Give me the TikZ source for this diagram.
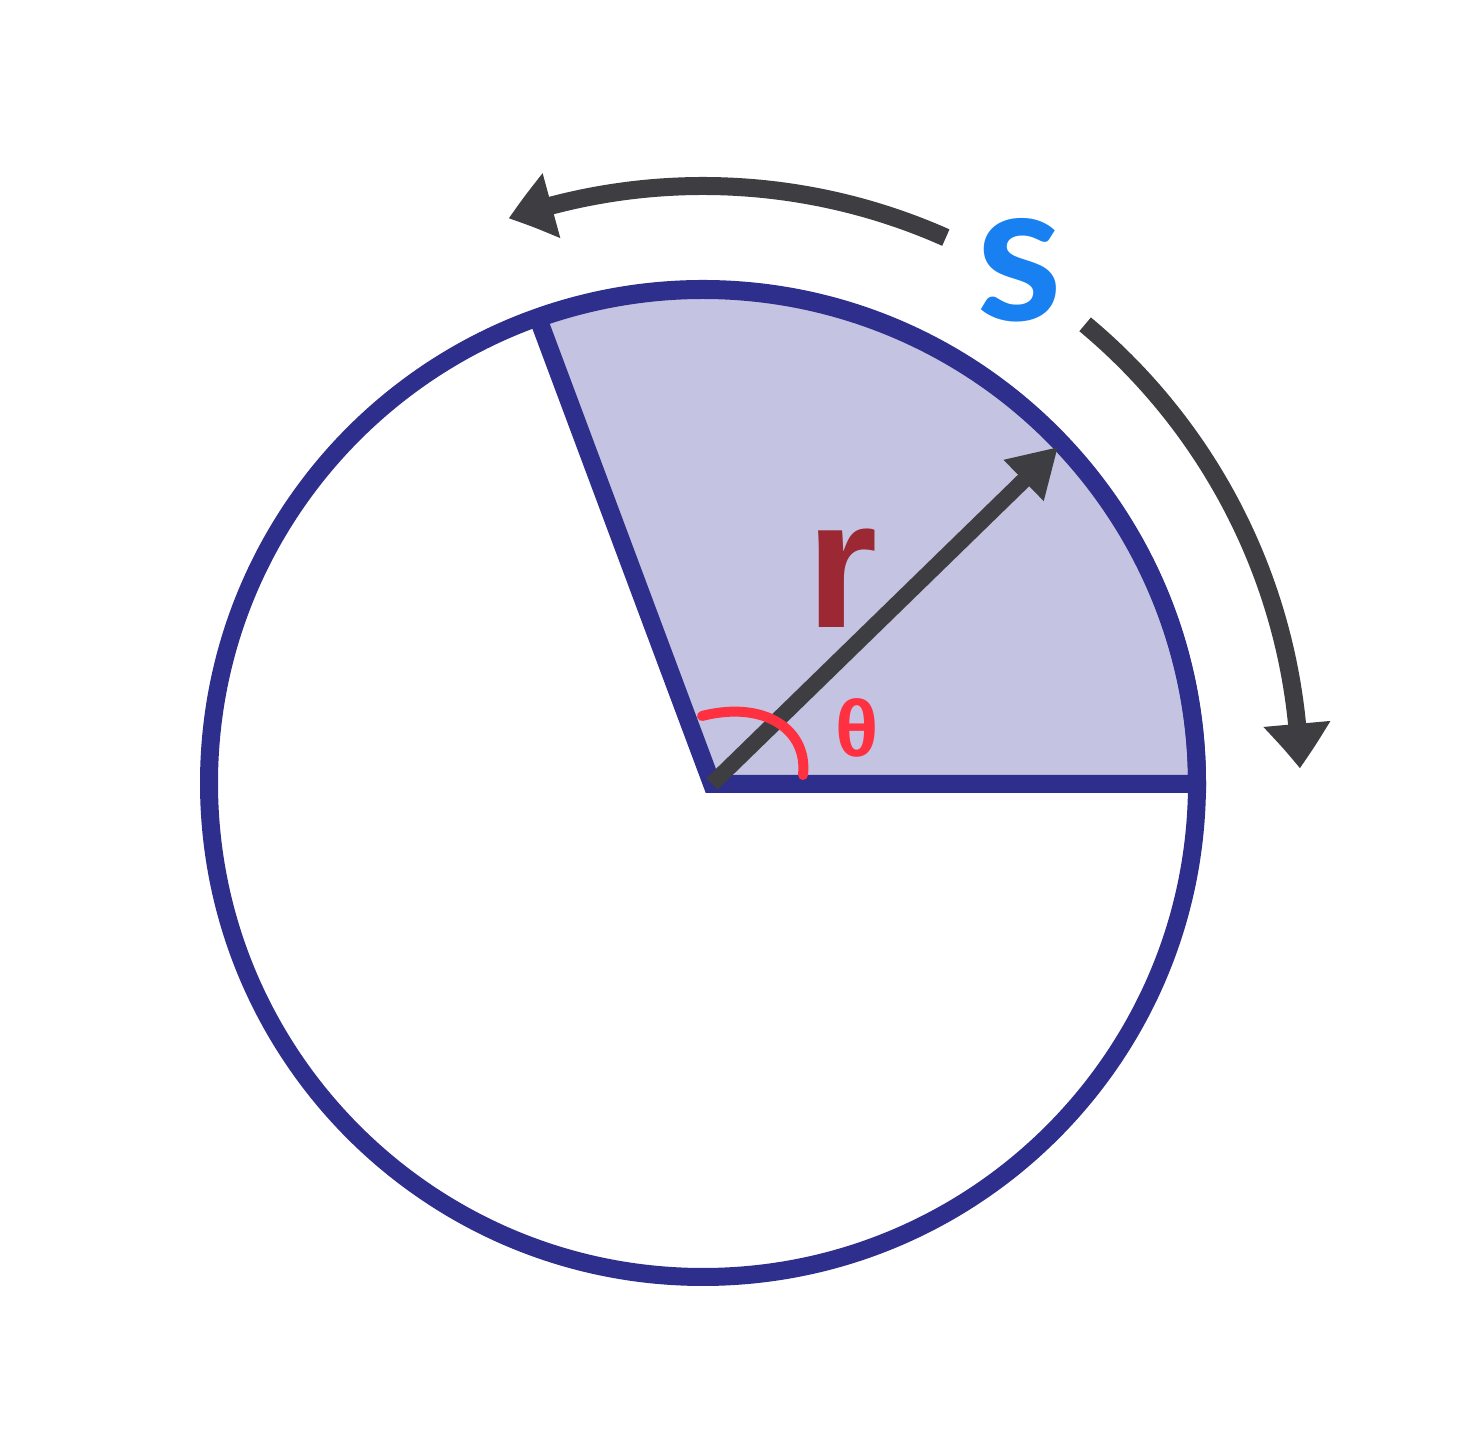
\documentclass[tikz,border=0pt]{standalone}
\usepackage{fontspec}
\newfontfamily\lsans{Liberation Sans}
\newfontfamily\lato{Lato}
\usetikzlibrary{arrows.meta,bending,calc}
\definecolor{navy}{RGB}{46,46,140}
\definecolor{sectorfill}{RGB}{196,196,226}
\definecolor{arrowgray}{RGB}{62,62,66}
\definecolor{rred}{RGB}{155,40,50}
\definecolor{thetared}{RGB}{255,48,64}
\definecolor{sblue}{RGB}{24,128,240}
\tikzset{
  rim/.style={draw=navy,line width=18pt},
  grayarrow/.style={draw=arrowgray,line width=18pt,-{Triangle[length=45pt,width=64pt,bend]}},
  lbl/.style={inner sep=0pt,anchor=center}
}
\begin{document}
\begin{tikzpicture}[x=1pt,y=1pt]
\useasboundingbox[fill=white] (0,0) rectangle (1468,1455);
\coordinate (O) at (703,672);
\coordinate (A) at (712,671);
\coordinate (E) at ($(O)+(0:494)$);
% sector
\filldraw[fill=sectorfill,draw=navy,line width=18pt,line join=miter]
  (A) -- (E |- A) arc[start angle=0,end angle=109.5,radius=494] -- cycle;
% circle
\draw[rim] (O) circle[radius=494];
% radius arrow
\coordinate (T) at (1058,1008);
\draw[draw=arrowgray,line width=16pt,-{Triangle[length=48pt,width=54pt]}] (A) -- (T);
% outer arcs
\coordinate (U1) at ($(O)+(66:597)$);
\coordinate (L1) at ($(O)+(50.2:597)$);
\draw[grayarrow] (U1) arc[start angle=66,end angle=109,radius=597];
\draw[grayarrow] (L1) arc[start angle=50.2,end angle=1.4,radius=597];
% angle mark
\coordinate (M1) at (702,739);
\coordinate (M2) at (803,680);
\draw[thetared,line width=10pt,line cap=round] (M1) .. controls (765,755) and (808,725) .. (M2);
% labels
\node[lbl,text=rred] (r) at (842,877) {\lsans\bfseries\fontsize{183}{183}\selectfont r};
\node[lbl,text=thetared] (th) at (857,727) {\lsans\bfseries\fontsize{80}{80}\selectfont θ};
\node[lbl,text=sblue] (s) at (1020,1185) {\lato\bfseries\fontsize{196}{196}\selectfont s};
\end{tikzpicture}
\end{document}
